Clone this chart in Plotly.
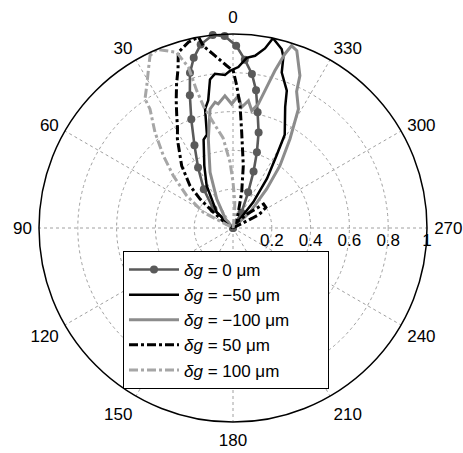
import plotly.graph_objects as go

# ---- data (theta in degrees, CCW from top; r normalised) ----
theta_0 = [-60, -29, -23, -20, -17.5, -15, -12, -9.5, -7, -4, -1, 2.5, 6, 10, 13, 15.5, 18, 21, 25, 30, 37, 46, 70]
r_0 = [0, 0.09, 0.20, 0.31, 0.41, 0.51, 0.61, 0.72, 0.80, 0.87, 0.94, 0.99, 1.0, 0.96, 0.90, 0.83, 0.72, 0.60, 0.47, 0.36, 0.25, 0.14, 0]

theta_m50 = [-60, -38, -34.5, -31, -29, -23.3, -21.4, -17.4, -16.4, -15.2, -11.9, -10.1, -7.3, -4.6, -1.9, 1.1, 3.0, 6.7, 8.8, 11, 13.2, 15.6, 18.4, 24.7, 31.9, 46, 70]
r_m50 = [0, 0.17, 0.31, 0.435, 0.55, 0.68, 0.76, 0.84, 0.92, 0.956, 1.0, 0.94, 0.895, 0.88, 0.83, 0.81, 0.79, 0.80, 0.775, 0.67, 0.63, 0.50, 0.48, 0.354, 0.257, 0.117, 0]

theta_m100 = [-65, -47.3, -40.8, -37, -32.6, -28.8, -25, -23.7, -19.8, -17.8, -16.6, -14.9, -13.1, -11.5, -9.1, -6.9, -4.1, -2.3, 0.6, 3.5, 6.8, 8.1, 10.9, 15.5, 22.4, 29.3, 40, 60]
r_m100 = [0, 0.119, 0.266, 0.402, 0.545, 0.70, 0.776, 0.858, 0.971, 0.987, 0.936, 0.839, 0.727, 0.652, 0.612, 0.661, 0.624, 0.683, 0.639, 0.683, 0.644, 0.655, 0.625, 0.476, 0.31, 0.171, 0.06, 0]

theta_50 = [-75, -63, -58, -52, -45, -30, -18.7, -13.7, -9.4, -5.2, -3.3, -1.5, -0.1, 2.2, 6.0, 9.3, 10.2, 13.5, 17.3, 19, 21.4, 24, 26.5, 29, 32, 39.5, 45.5, 48.7, 51.4, 60, 75]
r_50 = [0, 0.15, 0.20, 0.20, 0.10, 0.03, 0.085, 0.189, 0.325, 0.495, 0.632, 0.734, 0.81, 0.837, 0.893, 0.952, 1.0, 0.985, 0.948, 0.87, 0.797, 0.72, 0.65, 0.59, 0.541, 0.416, 0.311, 0.226, 0.13, 0.03, 0]

theta_100 = [-20, -8, -4, 0, 2.6, 6.3, 10.7, 13.5, 14.8, 15.5, 17.8, 23, 25.7, 28, 31.2, 34.3, 34.9, 39.2, 43.9, 48.8, 55.1, 62.1, 75]
r_100 = [0, 0.05, 0.134, 0.237, 0.34, 0.467, 0.556, 0.64, 0.732, 0.86, 0.951, 1.0, 0.986, 0.928, 0.858, 0.805, 0.748, 0.636, 0.518, 0.409, 0.291, 0.173, 0]

PAD = "\u00a0" * 7  # widens the legend box like the reference
names = ["<i>δg</i> = 0 μm", "<i>δg</i> = −50 μm", "<i>δg</i> = −100 μm" + PAD,
         "<i>δg</i> = 50 μm", "<i>δg</i> = 100 μm"]
angle_ticks = [0, 30, 60, 90, 120, 150, 180, 210, 240, 270, 300, 330]
radial_ticks = [0.2, 0.4, 0.6, 0.8, 1]

FONT = "Liberation Sans, Arial, sans-serif"

fig = go.Figure()
fig.add_trace(go.Scatterpolar(theta=theta_0, r=r_0, name=names[0], mode="lines+markers",
                              line=dict(color="#5a5a5a", width=2.6),
                              marker=dict(color="#5a5a5a", size=8)))
fig.add_trace(go.Scatterpolar(theta=theta_m50, r=r_m50, name=names[1], mode="lines",
                              line=dict(color="#000000", width=2.5)))
fig.add_trace(go.Scatterpolar(theta=theta_m100, r=r_m100, name=names[2], mode="lines",
                              line=dict(color="#8c8c8c", width=3)))
fig.add_trace(go.Scatterpolar(theta=theta_50, r=r_50, name=names[3], mode="lines",
                              line=dict(color="#000000", width=3, dash="dashdot")))
fig.add_trace(go.Scatterpolar(theta=theta_100, r=r_100, name=names[4], mode="lines",
                              line=dict(color="#a6a6a6", width=3, dash="dashdot")))

W, H = 463, 453
cx, cy, R = 233, 228, 194
fig.update_layout(
    width=W, height=H,
    margin=dict(l=0, r=0, t=0, b=0),
    paper_bgcolor="white",
    font=dict(family=FONT, size=17, color="black"),
    polar=dict(
        domain=dict(x=[(cx - R) / W, (cx + R) / W],
                    y=[(H - cy - R) / H, (H - cy + R) / H]),
        bgcolor="white",
        angularaxis=dict(rotation=90, direction="counterclockwise",
                         tickmode="array", tickvals=angle_ticks,
                         ticktext=[str(a) for a in angle_ticks],
                         showline=True, linecolor="black", linewidth=1.5,
                         showgrid=True, gridcolor="#a0a0a0", griddash="dot", gridwidth=1,
                         ticks="outside", ticklen=3, tickcolor="rgba(0,0,0,0)",
                         tickfont=dict(family=FONT, size=17, color="black")),
        radialaxis=dict(range=[0, 1], angle=0, tickangle=0,
                        tickmode="array", tickvals=radial_ticks,
                        ticktext=["0.2", "0.4", "0.6", "0.8", "1"],
                        showline=False, ticks="",
                        showgrid=True, gridcolor="#a0a0a0", griddash="dot", gridwidth=1,
                        tickfont=dict(family=FONT, size=17, color="black")),
    ),
    legend=dict(x=123 / W, y=1 - 251 / H, xanchor="left", yanchor="top",
                bgcolor="white", bordercolor="black", borderwidth=1,
                font=dict(family=FONT, size=17, color="black"),
                itemwidth=50),
    showlegend=True,
)

fig.write_html("out.html")
